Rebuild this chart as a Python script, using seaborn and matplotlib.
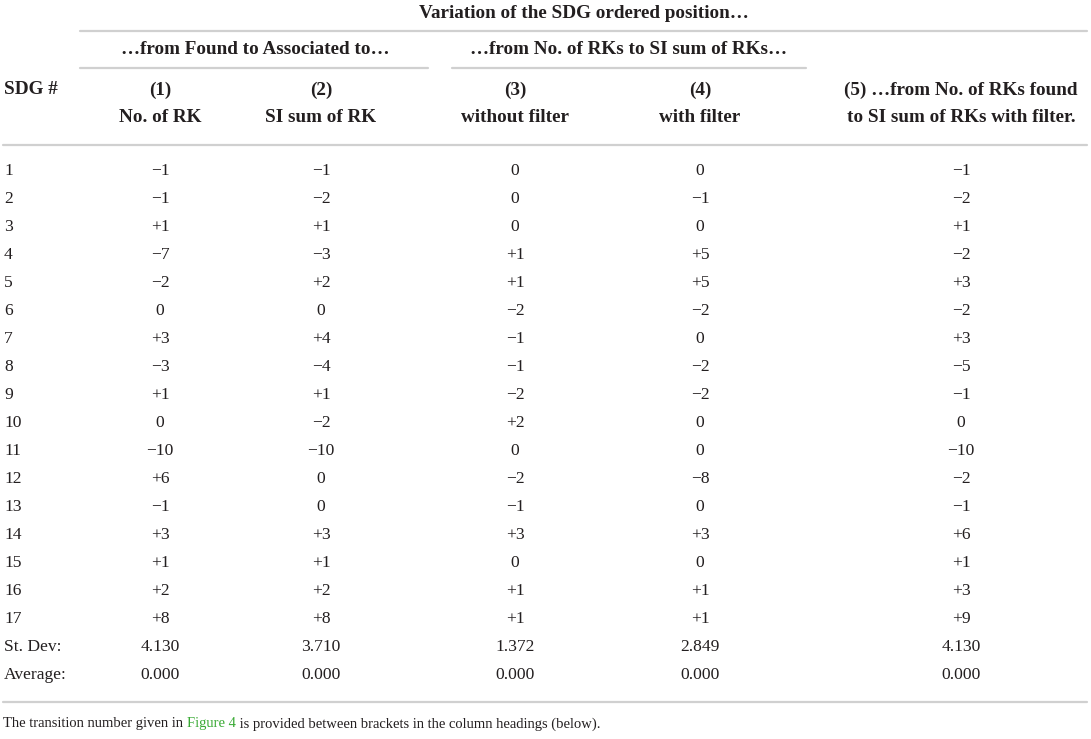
import numpy as np
import pandas as pd
import matplotlib
matplotlib.use("Agg")
import matplotlib.pyplot as plt
import seaborn as sns

# Dados da tabela
sdg = [str(i) for i in range(1, 18)]
col1 = [-1, -1, 1, -7, -2, 0, 3, -3, 1, 0, -10, 6, -1, 3, 1, 2, 8]
col2 = [-1, -2, 1, -3, 2, 0, 4, -4, 1, -2, -10, 0, 0, 3, 1, 2, 8]
col3 = [0, 0, 0, 1, 1, -2, -1, -1, -2, 2, 0, -2, -1, 3, 0, 1, 1]
col4 = [0, -1, 0, 5, 5, -2, 0, -2, -2, 0, 0, -8, 0, 3, 0, 1, 1]
col5 = [-1, -2, 1, -2, 3, -2, 3, -5, -1, 0, -10, -2, -1, 6, 1, 3, 9]
st_dev = [4.130, 3.710, 1.372, 2.849, 4.130]
average = [0.000, 0.000, 0.000, 0.000, 0.000]
col_nums = ["(1)", "(2)", "(3)", "(4)", "(5) \u2026from No. of RKs found"]
col_names = ["No. of RK", "SI sum of RK", "without filter", "with filter",
             "to SI sum of RKs with filter."]

df = pd.DataFrame({"c1": col1, "c2": col2, "c3": col3, "c4": col4, "c5": col5}, index=sdg)


def fmt(v):
    if v > 0:
        return f"+{v}"
    if v < 0:
        return f"\u2212{abs(v)}"
    return "0"


sns.set_theme(style="white")
plt.rcParams["font.family"] = ["Liberation Serif", "DejaVu Serif"]

W, H = 1091, 739
fig = plt.figure(figsize=(W / 100, H / 100), dpi=100)
ax = fig.add_axes([0, 0, 1, 1])
ax.set_xlim(0, W)
ax.set_ylim(H, 0)
ax.axis("off")

fs_h = 13.8   # cabeçalho
fs_b = 12.6   # corpo
fs_n = 10.5   # nota
line_c = "#d0d0d0"
txt_c = "#231f20"
xc = [160, 321, 515, 700, 961]

# Cabeçalho
ax.text(584, 14, "Variation of the SDG ordered position\u2026", ha="center", va="center",
        fontsize=fs_h, fontweight="bold", color=txt_c)
ax.plot([80, 1087], [30.5, 30.5], color=line_c, lw=1.6)
ax.text(255, 50, "\u2026from Found to Associated to\u2026", ha="center", va="center",
        fontsize=fs_h, fontweight="bold", color=txt_c)
ax.plot([80, 428], [68, 68], color=line_c, lw=1.6)
ax.text(629, 50, "\u2026from No. of RKs to SI sum of RKs\u2026", ha="center", va="center",
        fontsize=fs_h, fontweight="bold", color=txt_c)
ax.plot([452, 806], [68, 68], color=line_c, lw=1.6)

ax.text(4, 90, "SDG #", ha="left", va="center", fontsize=fs_h, fontweight="bold", color=txt_c)
for x, a, b in zip(xc, col_nums, col_names):
    ax.text(x, 90, a, ha="center", va="center", fontsize=fs_h, fontweight="bold", color=txt_c)
    ax.text(x, 117, b, ha="center", va="center", fontsize=fs_h, fontweight="bold", color=txt_c)
ax.plot([3, 1087], [144.5, 144.5], color=line_c, lw=1.6)

# Corpo da tabela
y0, dy = 171, 28.0
for i, (lab, row) in enumerate(df.iterrows()):
    y = y0 + i * dy
    ax.text(4, y, lab, ha="left", va="center", fontsize=fs_b, color=txt_c)
    for x, v in zip(xc, row.values):
        ax.text(x, y, fmt(int(v)), ha="center", va="center", fontsize=fs_b, color=txt_c)

y = y0 + len(sdg) * dy
ax.text(4, y, "St. Dev:", ha="left", va="center", fontsize=fs_b, color=txt_c)
for x, v in zip(xc, st_dev):
    ax.text(x, y, f"{v:.3f}", ha="center", va="center", fontsize=fs_b, color=txt_c)
y += dy
ax.text(4, y, "Average:", ha="left", va="center", fontsize=fs_b, color=txt_c)
for x, v in zip(xc, average):
    ax.text(x, y, f"{v:.3f}", ha="center", va="center", fontsize=fs_b, color=txt_c)
ax.plot([3, 1087], [702, 702], color=line_c, lw=1.6)

# Nota de rodapé com "Figure 4" em verde
fig.canvas.draw()
r = fig.canvas.get_renderer()
parts = [("The transition number given in ", txt_c), ("Figure 4", "#3aaa35"),
         (" is provided between brackets in the column headings (below).", txt_c)]
x = 3
for s, c in parts:
    t = ax.text(x, 724, s, ha="left", va="center", fontsize=fs_n, color=c)
    bb = t.get_window_extent(renderer=r)
    x += bb.width

fig.savefig("out.png", dpi=100)
